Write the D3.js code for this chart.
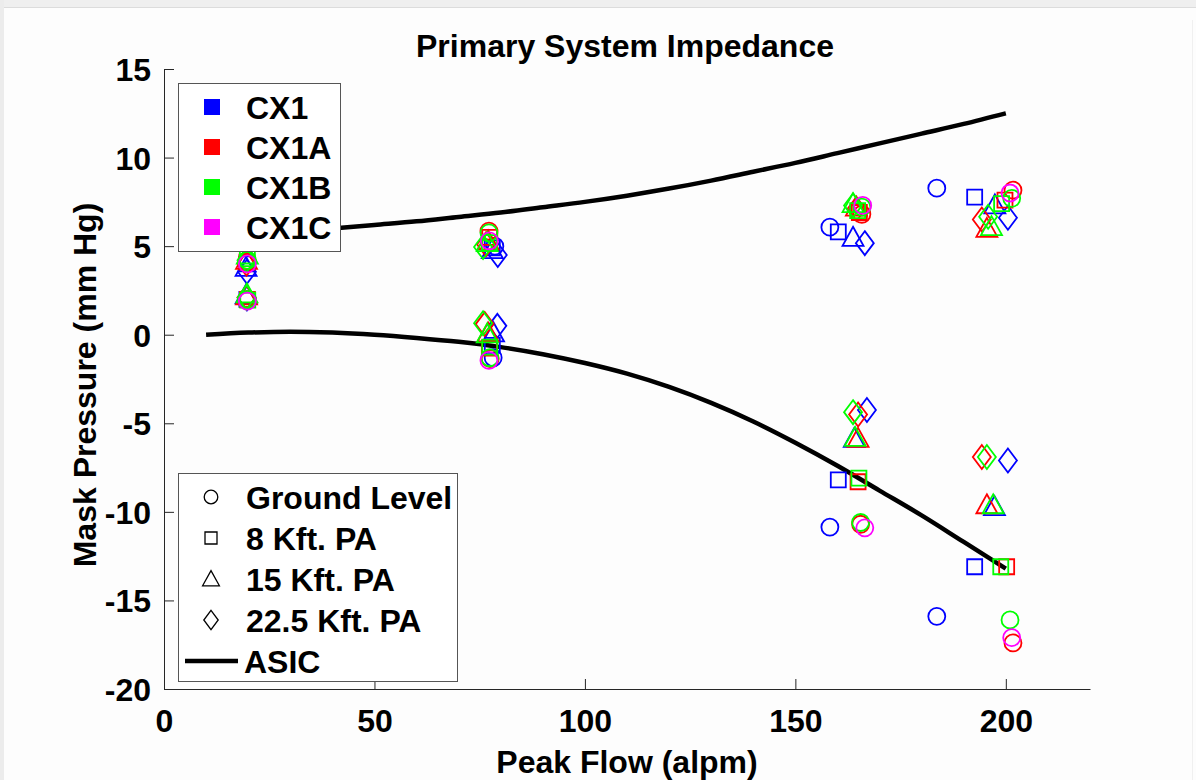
<!DOCTYPE html>
<html>
<head>
<meta charset="utf-8">
<script src="https://cdn.jsdelivr.net/npm/d3@7"></script>
<style>
  body { margin: 0; background: #fdfdfd; }
  text { font-family: "Liberation Sans", Arial, sans-serif; font-weight: bold; fill: #000; }
</style>
</head>
<body>
<script>
// series and altitude names
var seriesNames = ["CX1", "CX1A", "CX1B", "CX1C"];
var altitudes = ["Ground Level", "8 Kft. PA", "15 Kft. PA", "22.5 Kft. PA"];
var xTicks = [0, 50, 100, 150, 200];
var yTicks = [15, 10, 5, 0, -5, -10, -15, -20];

// [altitude index, peak flow, mask pressure]
var cx1 = [
  [0, 19.7, 4.1], [0, 19.7, 1.95], [0, 78.6, 5.0], [0, 78.2, -1.3], [0, 158.2, 6.07], [0, 158.2, -10.86], [0, 183.6, 8.27], [0, 183.6, -15.9],
  [1, 19.7, 4.0], [1, 19.7, 2.0], [1, 78.0, 4.9], [1, 78.0, -0.6], [1, 160.2, 5.8], [1, 160.2, -8.2], [1, 192.6, 7.77], [1, 192.6, -13.1],
  [2, 19.5, 3.8], [2, 19.5, 2.25], [2, 78.0, 4.8], [2, 78.3, 0.1], [2, 163.7, 5.5], [2, 164.0, -5.85], [2, 197.4, 7.33], [2, 197.3, -9.7],
  [3, 19.7, 3.55], [3, 19.7, 2.05], [3, 79.3, 4.5], [3, 79.2, 0.5], [3, 166.5, 5.17], [3, 167.0, -4.25], [3, 200.5, 6.6], [3, 200.5, -7.1]
];
var cx1a = [
  [0, 19.7, 4.2], [0, 19.7, 2.0], [0, 77.2, 5.85], [0, 77.5, -1.35], [0, 165.8, 6.8], [0, 165.5, -10.7], [0, 201.7, 8.16], [0, 201.7, -17.4],
  [1, 19.7, 4.1], [1, 19.8, 2.0], [1, 77.4, 5.5], [1, 77.3, -0.75], [1, 165.2, 6.9], [1, 164.9, -8.3], [1, 199.8, 7.6], [1, 200.2, -13.1],
  [2, 19.6, 4.2], [2, 19.6, 2.2], [2, 77.0, 5.3], [2, 77.0, 0.1], [2, 164.5, 7.2], [2, 164.9, -5.85], [2, 195.5, 6.0], [2, 195.5, -9.6],
  [3, 19.6, 4.0], [3, 19.6, 2.1], [3, 76.5, 5.1], [3, 76.2, 0.6], [3, 164.5, 7.1], [3, 164.9, -4.5], [3, 194.3, 6.5], [3, 194.3, -6.9]
];
var cx1b = [
  [0, 19.8, 4.2], [0, 19.8, 2.0], [0, 77.2, 5.75], [0, 77.4, -1.3], [0, 165.8, 7.2], [0, 165.5, -10.6], [0, 201.4, 7.7], [0, 201.0, -16.1],
  [1, 19.8, 4.3], [1, 19.9, 1.95], [1, 77.3, 5.2], [1, 77.4, -0.7], [1, 164.8, 7.0], [1, 165.1, -8.1], [1, 199.0, 7.4], [1, 198.8, -13.1],
  [2, 19.8, 4.5], [2, 19.7, 2.3], [2, 76.8, 5.2], [2, 76.8, 0.05], [2, 163.7, 7.4], [2, 164.2, -5.8], [2, 196.6, 6.1], [2, 197.0, -9.6],
  [3, 19.6, 4.2], [3, 19.6, 2.1], [3, 75.8, 4.95], [3, 75.8, 0.65], [3, 163.7, 7.3], [3, 163.7, -4.37], [3, 195.8, 6.66], [3, 195.5, -6.9]
];
var cx1c = [
  [0, 19.8, 4.0], [0, 19.8, 1.9], [0, 77.3, 5.3], [0, 77.2, -1.45], [0, 166.0, 7.3], [0, 166.5, -10.9], [0, 201.0, 8.0], [0, 201.4, -17.1]
];

// ASIC reference limits
var asicFlow  = [10, 20, 30, 40, 50, 60, 70, 80, 90, 100, 110, 120, 130, 140, 150, 160, 170, 180, 190, 200];
var asicUpper = [5.45, 5.6, 5.8, 6.0, 6.2, 6.4, 6.65, 6.9, 7.2, 7.5, 7.85, 8.25, 8.7, 9.2, 9.7, 10.25, 10.8, 11.35, 11.9, 12.5];
var asicLower = [0.0, 0.12, 0.17, 0.12, 0.0, -0.18, -0.4, -0.7, -1.1, -1.6, -2.2, -2.95, -3.85, -4.9, -6.1, -7.4, -8.8, -10.2, -11.7, -13.2];

function init()
{
    var w = 1196;
    var h = 780;
    var colors = ["#0000ff", "#ff0000", "#00ff00", "#ff00ff"];
    var fs = "32px";

    var svg = d3.select("body")
                .append("svg")
                .attr("width", w)
                .attr("height", h);

    // window frame
    svg.append("rect").attr("x", 0).attr("y", 0).attr("width", w).attr("height", h).attr("fill", "#fdfdfd");
    svg.append("rect").attr("x", 0).attr("y", 0).attr("width", w).attr("height", 7).attr("fill", "#efefef");
    svg.append("line").attr("x1", 0).attr("x2", w).attr("y1", 7.5).attr("y2", 7.5).attr("stroke", "#dcdcdc");
    svg.append("rect").attr("x", 0).attr("y", 0).attr("width", 4).attr("height", h).attr("fill", "#ececec");
    svg.append("line").attr("x1", 1192.5).attr("x2", 1192.5).attr("y1", 20).attr("y2", h).attr("stroke", "#f0f0f0");

    var x = d3.scaleLinear().domain([0, 220]).range([164, 1090]);
    var y = d3.scaleLinear().domain([-20, 15]).range([689, 69]);

    // axes
    var fmt = function(d) { return String(d); };
    var xAxis = d3.axisBottom(x).tickValues(xTicks).tickFormat(fmt).tickSizeInner(-10).tickSizeOuter(0);
    var yAxis = d3.axisLeft(y).tickValues(yTicks).tickFormat(fmt).tickSizeInner(-10).tickSizeOuter(0);

    var gx = svg.append("g").attr("transform", "translate(0,689)").call(xAxis);
    var gy = svg.append("g").attr("transform", "translate(164,0)").call(yAxis);
    [gx, gy].forEach(function(g) {
        g.select(".domain").attr("stroke", "#262626").attr("stroke-width", 1);
        g.selectAll(".tick line").attr("stroke", "#262626").attr("stroke-width", 1);
        g.selectAll(".tick text").style("font-size", fs).style("font-family", "Liberation Sans, Arial, sans-serif")
         .style("font-weight", "bold").attr("fill", "#000");
    });
    gy.selectAll(".tick text").attr("x", -13).attr("dy", "0.36em");
    gx.selectAll(".tick text").attr("y", 20).attr("dy", "0.72em");

    // title and labels
    svg.append("text").attr("x", 625).attr("y", 57).attr("text-anchor", "middle")
       .style("font-size", fs).text("Primary System Impedance");
    svg.append("text").attr("x", 627).attr("y", 773).attr("text-anchor", "middle")
       .style("font-size", fs).text("Peak Flow (alpm)");
    svg.append("text").attr("transform", "translate(96,385) rotate(-90)").attr("text-anchor", "middle")
       .style("font-size", fs).text("Mask Pressure (mm Hg)");

    // ASIC curves
    var line = d3.line()
                 .x(function(d) { return x(d[0]); })
                 .y(function(d) { return y(d[1]); })
                 .curve(d3.curveMonotoneX);
    [asicUpper, asicLower].forEach(function(vals) {
        svg.append("path")
           .datum(asicFlow.map(function(f, i) { return [f, vals[i]]; }))
           .attr("d", line)
           .attr("fill", "none")
           .attr("stroke", "#000")
           .attr("stroke-width", 4.5);
    });

    // marker shapes
    function markerPath(alt, s) {
        if (alt == 0) {
            var r = 8.5 * s;
            return "M" + (-r) + ",0A" + r + "," + r + " 0 1,0 " + r + ",0A" + r + "," + r + " 0 1,0 " + (-r) + ",0Z";
        } else if (alt == 1) {
            var a = 7.5 * s;
            return "M" + (-a) + "," + (-a) + "H" + a + "V" + a + "H" + (-a) + "Z";
        } else if (alt == 2) {
            return "M0," + (-10.5 * s) + "L" + (10.5 * s) + "," + (8.5 * s) + "H" + (-10.5 * s) + "Z";
        } else {
            return "M0," + (-12 * s) + "L" + (9 * s) + ",0L0," + (12 * s) + "L" + (-9 * s) + ",0Z";
        }
    }

    var allSeries = [cx1, cx1a, cx1b, cx1c];
    allSeries.forEach(function(data, si) {
        svg.append("g")
           .selectAll("path")
           .data(data)
           .enter()
           .append("path")
           .attr("transform", function(d) { return "translate(" + x(d[1]) + "," + y(d[2]) + ")"; })
           .attr("d", function(d) { return markerPath(d[0], 1); })
           .attr("fill", "none")
           .attr("stroke", colors[si])
           .attr("stroke-width", 1.8);
    });

    // legend for series
    var leg1 = svg.append("g");
    leg1.append("rect").attr("x", 178.5).attr("y", 83.5).attr("width", 162).attr("height", 168)
        .attr("fill", "#fff").attr("stroke", "#555").attr("stroke-width", 1);
    seriesNames.forEach(function(name, i) {
        var cy = 107 + i * 40;
        leg1.append("rect").attr("x", 204).attr("y", cy - 8).attr("width", 16).attr("height", 16)
            .attr("fill", colors[i]);
        leg1.append("text").attr("x", 246).attr("y", cy).attr("dy", "0.36em")
            .style("font-size", fs).text(name);
    });

    // legend for altitudes
    var leg2 = svg.append("g");
    leg2.append("rect").attr("x", 178.5).attr("y", 473.5).attr("width", 279).attr("height", 208)
        .attr("fill", "#fff").attr("stroke", "#555").attr("stroke-width", 1);
    altitudes.forEach(function(name, i) {
        var cy = 497 + i * 41;
        leg2.append("path").attr("transform", "translate(211," + cy + ")")
            .attr("d", markerPath(i, 0.8))
            .attr("fill", "none").attr("stroke", "#000").attr("stroke-width", 1.3);
        leg2.append("text").attr("x", 246).attr("y", cy).attr("dy", "0.36em")
            .style("font-size", fs).text(name);
    });
    var cyA = 497 + 4 * 41;
    leg2.append("line").attr("x1", 185).attr("x2", 238).attr("y1", cyA).attr("y2", cyA)
        .attr("stroke", "#000").attr("stroke-width", 4.5);
    leg2.append("text").attr("x", 244).attr("y", cyA).attr("dy", "0.36em")
        .style("font-size", fs).text("ASIC");
}
window.onload = init
</script>
</body>
</html>
